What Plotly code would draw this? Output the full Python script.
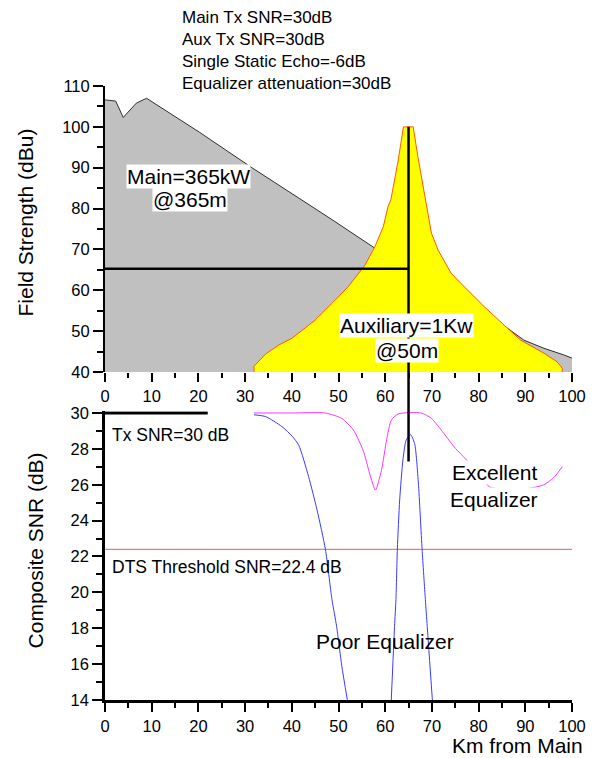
import plotly.graph_objects as go

# ---- Field strength (dBu) versus distance from the main transmitter (km) ----
main_km = [0, 2.3, 3.9, 5.7, 6.7, 8.9, 20.2, 31.6, 41.5, 48.6, 57.8, 65.0, 72.0, 80.0,
           86.2, 89.7, 94.0, 98.2, 100]
main_dbu = [106.6, 106.3, 102.3, 104.6, 105.8, 107.0, 98.7, 89.9, 82.6, 77.3, 70.3, 64.8,
            59.5, 54.0, 50.7, 47.8, 45.8, 44.2, 43.4]

aux_km = [31.9, 31.9, 34.4, 37.2, 40.1, 45.0, 48.6, 52.1, 55.7, 57.8, 59.6, 60.6, 61.2,
          62.8, 63.9, 66.0, 67.0, 68.7, 69.9, 71.3, 74.1, 76.2, 81.2, 86.2, 89.0, 94.0,
          96.8, 97.9, 97.9]
aux_dbu = [40, 41.4, 44.4, 46.6, 48.3, 52.7, 56.8, 60.9, 66.2, 70.7, 75.6, 80.5, 82.1,
           91.9, 100, 100, 92.7, 82.1, 74.0, 69.9, 64.2, 61.7, 56.0, 50.7, 47.8, 44.6,
           42.5, 40.9, 40]

# ---- Composite SNR (dB) ----
poor_km = [31.9, 34.4, 37.9, 40.1, 41.5, 43.6, 45.4, 47.2, 48.6, 49.6, 50.7, 51.9, None,
           61.3, 62.0, 62.3, 62.6, 63.1, 63.8, 64.5, 65.4, 66.3, 67.1, 67.9, 68.6, 69.0, 70.1]
poor_snr = [29.9, 29.8, 29.24, 28.7, 28.2, 26.45, 24.6, 22.4, 19.6, 18.1, 15.9, 14.0, None,
            14.0, 18.1, 19.6, 22.4, 25.15, 27.4, 28.5, 28.8, 28.3, 26.1, 22.4, 19.6, 18.1, 14.0]

excellent_km = [31.9, 40, 47.2, 50.7, 53.2, 55.3, 56.7, 57.9, 59.2, 60.3, 61.3, 62.8, 67.7,
                69.9, 72.0, 74.8, 77.7, 80.0, 82.5, 86.0, 90.8, 94.0, 96.1, 97.9]
excellent_snr = [30, 30, 30, 29.7, 29.05, 27.9, 26.6, 25.7, 26.8, 28.5, 29.6, 29.95, 30,
                 29.7, 29.05, 28.1, 27.3, 26.5, 25.86, 25.75, 25.8, 26.0, 26.4, 27.0]

tx_snr_km = [0, 22]
tx_snr_db = 30
threshold_km = [0, 100]
threshold_db = 22.4

# operating point of the auxiliary transmitter
aux_site_km = 65
aux_site_dbu = 100
aux_site_snr = 27.3
crossing_dbu = 65.3

header_lines = ["Main Tx SNR=30dB", "Aux Tx SNR=30dB", "Single Static Echo=-6dB",
                "Equalizer attenuation=30dB"]

FONT = "Liberation Sans, Arial, sans-serif"
W, H = 598, 758
L, R, T, B = 105, 575, 86, 700


def px_x(px):
    return (px - L) / (R - L)


def px_y(py):
    return (B - py) / (B - T)


fs_range = [40, 110]
snr_range = [14, 30.1]
top_dom = [px_y(372), 1.0]
bot_dom = [0.0, px_y(413 - 0.1 * 287 / 16)]


def top_paper(v):
    return top_dom[0] + (v - fs_range[0]) / (fs_range[1] - fs_range[0]) * (top_dom[1] - top_dom[0])


def bot_paper(v):
    return bot_dom[0] + (v - snr_range[0]) / (snr_range[1] - snr_range[0]) * (bot_dom[1] - bot_dom[0])


fig = go.Figure()

fig.add_trace(go.Scatter(x=main_km, y=main_dbu, mode="lines", fill="tozeroy",
                         fillcolor="#c0c0c0", line=dict(color="#303030", width=1),
                         xaxis="x", yaxis="y", showlegend=False))
fig.add_trace(go.Scatter(x=aux_km, y=aux_dbu, mode="lines", fill="tozeroy",
                         fillcolor="#ffff00", line=dict(color="#ff5a00", width=1),
                         xaxis="x", yaxis="y", showlegend=False))

fig.add_trace(go.Scatter(x=threshold_km, y=[threshold_db] * 2, mode="lines",
                         line=dict(color="#e06060", width=1),
                         xaxis="x2", yaxis="y2", showlegend=False))
fig.add_trace(go.Scatter(x=tx_snr_km, y=[tx_snr_db] * 2, mode="lines",
                         line=dict(color="black", width=3),
                         xaxis="x2", yaxis="y2", showlegend=False))
fig.add_trace(go.Scatter(x=excellent_km, y=excellent_snr, mode="lines",
                         line=dict(color="#ff33ff", width=1, shape="spline", smoothing=0.6),
                         xaxis="x2", yaxis="y2", showlegend=False))
fig.add_trace(go.Scatter(x=poor_km, y=poor_snr, mode="lines", connectgaps=False,
                         line=dict(color="#3a3aff", width=1, shape="spline", smoothing=0.6),
                         xaxis="x2", yaxis="y2", showlegend=False))

shapes = [
    dict(type="line", xref="x", yref="y", x0=0, x1=aux_site_km,
         y0=crossing_dbu, y1=crossing_dbu, line=dict(color="black", width=2.5)),
    dict(type="line", xref="paper", yref="paper",
         x0=aux_site_km / 100, x1=aux_site_km / 100,
         y0=bot_paper(aux_site_snr), y1=top_paper(aux_site_dbu),
         line=dict(color="black", width=2.5)),
]

ann = []
for i, line in enumerate(header_lines):
    ann.append(dict(text=line, xref="paper", yref="paper", x=px_x(180), y=px_y(17.5 + 22 * i),
                    xanchor="left", yanchor="middle", showarrow=False,
                    font=dict(size=17, color="black", family=FONT)))


def boxed(text, x, y, xr, yr, size=21):
    return dict(text=text, xref=xr, yref=yr, x=x, y=y, xanchor="center", yanchor="middle",
                showarrow=False, bgcolor="white", borderpad=0,
                font=dict(size=size, color="black", family=FONT))


ann += [
    boxed("Main=365kW", 17.9, 87.8, "x", "y"),
    boxed("@365m", 18.2, 82.1, "x", "y"),
    boxed("Auxiliary=1Kw", 64.6, 51.5, "x", "y"),
    boxed("@50m", 64.7, 45.3, "x", "y"),
    boxed("Excellent", 83.3, 26.66, "x2", "y2"),
    boxed("Equalizer", 83.3, 25.15, "x2", "y2"),
    dict(text="Poor Equalizer", xref="x2", yref="y2", x=60, y=17.25, showarrow=False,
         xanchor="center", yanchor="middle", font=dict(size=21, color="black", family=FONT)),
    dict(text="Tx SNR=30 dB", xref="x2", yref="y2", x=1.06, y=28.77, showarrow=False,
         xanchor="left", yanchor="middle", font=dict(size=17.5, color="black", family=FONT)),
    dict(text="DTS Threshold SNR=22.4 dB", xref="x2", yref="y2", x=1.06, y=21.42,
         showarrow=False, xanchor="left", yanchor="middle",
         font=dict(size=17.5, color="black", family=FONT)),
    dict(text="Field Strength (dBu)", xref="paper", yref="paper", x=px_x(24.5), y=px_y(222.5),
         textangle=-90, showarrow=False, xanchor="center", yanchor="middle",
         font=dict(size=21, color="black", family=FONT)),
    dict(text="Composite SNR (dB)", xref="paper", yref="paper", x=px_x(35), y=px_y(550),
         textangle=-90, showarrow=False, xanchor="center", yanchor="middle",
         font=dict(size=21, color="black", family=FONT)),
    dict(text="Km from Main", xref="paper", yref="paper", x=px_x(588), y=px_y(745),
         showarrow=False, xanchor="right", yanchor="middle",
         font=dict(size=21, color="black", family=FONT)),
]

tick_font = dict(size=16.5, color="black", family=FONT)
common_x = dict(range=[0, 100], dtick=10, tick0=0, ticks="outside", ticklen=9, tickwidth=2,
                tickcolor="black", tickfont=tick_font, showgrid=False, zeroline=False,
                minor=dict(dtick=5, ticks="outside", ticklen=5, tickwidth=2, tickcolor="black"))

fig.update_layout(
    width=W, height=H,
    margin=dict(l=L, r=W - R, t=T, b=H - B),
    paper_bgcolor="white", plot_bgcolor="white",
    font=dict(family=FONT, color="black"),
    xaxis=dict(common_x, domain=[0, 1], anchor="y", showline=False, layer="below traces"),
    yaxis=dict(range=fs_range, domain=top_dom, anchor="x", dtick=10, ticks="outside",
               ticklen=10, tickwidth=2, tickcolor="black", tickfont=tick_font,
               showline=True, linecolor="black", linewidth=2, showgrid=False,
               zeroline=False, layer="below traces",
               minor=dict(dtick=5, ticks="outside", ticklen=6, tickwidth=2,
                          tickcolor="black")),
    xaxis2=dict(common_x, domain=[0, 1], anchor="y2", showline=True, linecolor="black",
                linewidth=2.5),
    yaxis2=dict(range=snr_range, domain=bot_dom, anchor="x2", tick0=14, dtick=2,
                ticks="outside", ticklen=10, tickwidth=2, tickcolor="black",
                tickfont=tick_font, showline=True, linecolor="black", linewidth=2.5,
                showgrid=False, zeroline=False,
                minor=dict(dtick=1, ticks="outside", ticklen=6, tickwidth=2,
                           tickcolor="black")),
    shapes=shapes,
    annotations=ann,
)

fig.write_html("out.html")
